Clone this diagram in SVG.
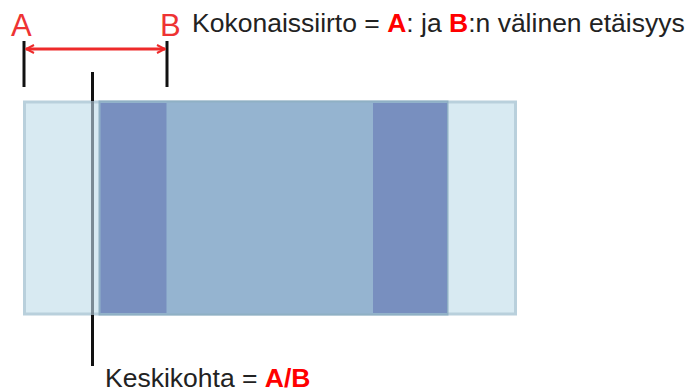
<svg xmlns="http://www.w3.org/2000/svg" width="689" height="392" viewBox="0 0 689 392">
<style>
.t{font-family:"Liberation Sans",Arial,sans-serif;fill:#222}
.r{fill:#f00;font-weight:bold}
.big{font-family:"Liberation Sans",Arial,sans-serif;fill:#ee3333}
.tick{stroke:#111;stroke-width:3}
</style>
<defs>
<marker id="ah" viewBox="0 0 10 10" refX="9" refY="5" markerWidth="10" markerHeight="10" orient="auto-start-reverse" markerUnits="userSpaceOnUse">
<path d="M1,1 L9,5 L1,9" fill="none" stroke="#ee2a2a" stroke-width="2"/>
</marker>
</defs>
<g id="part">
<rect x="24.5" y="102" width="491" height="212" fill="#d8eaf2" stroke="#b9d0dc" stroke-width="3"/>
<rect x="99.5" y="101.5" width="348" height="213" fill="#95b4d0" stroke="#8fb0c4" stroke-width="2"/>
<rect x="100.5" y="103" width="66" height="210" fill="#788fbf"/>
<rect x="373" y="103" width="74" height="210" fill="#788fbf"/>
</g>
<g id="connectors">
<line class="tick" x1="24" y1="41" x2="24" y2="87"/>
<line class="tick" x1="167" y1="41" x2="167" y2="87"/>
<line x1="26" y1="49" x2="165" y2="49" stroke="#ee2a2a" stroke-width="3" marker-start="url(#ah)" marker-end="url(#ah)"/>
<line x1="92.5" y1="72" x2="92.5" y2="101" stroke="#111" stroke-width="3"/>
<line x1="92.5" y1="101" x2="92.5" y2="315" stroke="#7a8a94" stroke-width="3"/>
<line x1="92.5" y1="315" x2="92.5" y2="366" stroke="#111" stroke-width="3"/>
</g>
<g id="labels">
<text x="11" y="36" class="big" font-size="31">A</text>
<text x="160" y="36" class="big" font-size="31">B</text>
<text x="192" y="32" class="t" font-size="26.5">Kokonaissiirto = <tspan class="r">A</tspan>: ja <tspan class="r">B</tspan>:n välinen etäisyys</text>
<text x="105" y="387" class="t" font-size="26.5">Keskikohta = <tspan class="r">A/B</tspan></text>
</g>
</svg>
